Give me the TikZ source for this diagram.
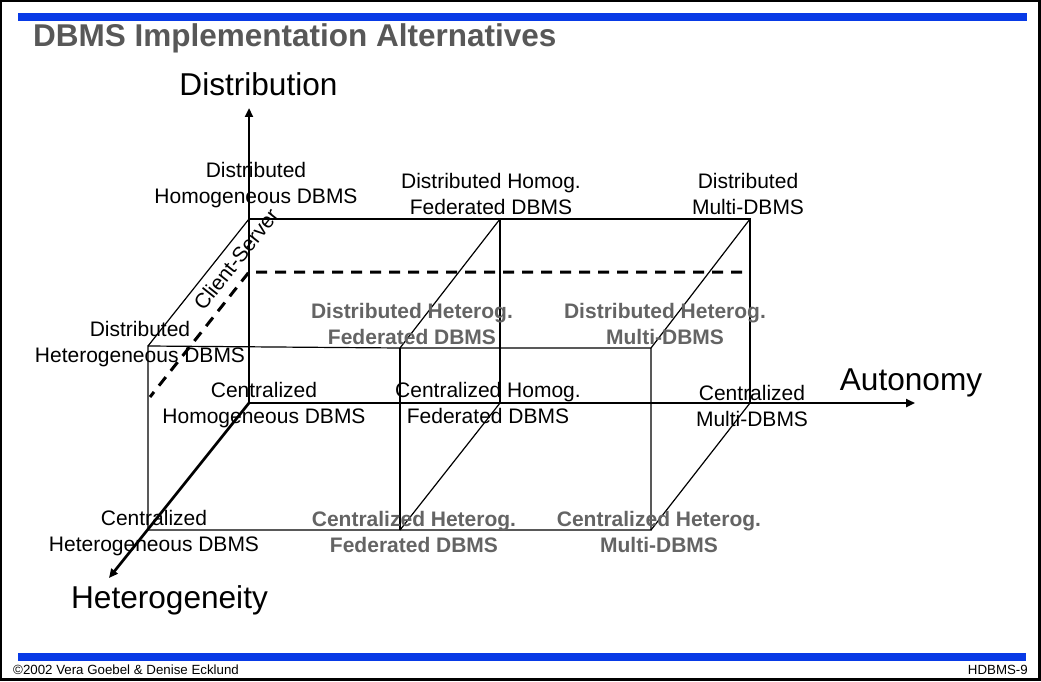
\documentclass[tikz,border=0pt]{standalone}
\usepackage{fontspec}
\setmainfont{Liberation Sans}
\usetikzlibrary{arrows.meta}
\definecolor{barblue}{RGB}{8,58,230}
\definecolor{titlegray}{RGB}{88,88,88}
\definecolor{cellgray}{RGB}{100,100,100}
\tikzset{
  edge/.style={line width=1.2pt, black},
  axisline/.style={line width=2.7pt, black, -{Triangle[length=9pt,width=8pt]}},
  csline/.style={line width=3pt, black, dash pattern=on 11pt off 8pt},
  lbl/.style={align=center, inner sep=0pt, anchor=north, font=\fontsize{21}{26}\selectfont},
  hetlbl/.style={lbl, text=cellgray, font=\fontsize{21}{26}\selectfont\bfseries},
  axislbl/.style={inner sep=0pt, anchor=base, font=\fontsize{31.6}{38}\selectfont},
  bar/.style={fill=barblue, draw=none},
}
\begin{document}
\begin{tikzpicture}[x=1pt, y=-1pt]
\useasboundingbox (0,0) rectangle (1041,682);
% slide frame and blue rules
\draw[line width=2.4pt] (1.2,1.2) rectangle (1039.6,679.6);
\path[bar] (18,13) rectangle (1027,21);
\path[bar] (18,653) rectangle (1026,661);
\node[inner sep=0pt, anchor=base west, text=titlegray, font=\fontsize{31.5}{38}\selectfont\bfseries]
  (title) at (33,47) {DBMS Implementation Alternatives};
\node[inner sep=0pt, anchor=base west, font=\fontsize{13.3}{16}\selectfont]
  (copy) at (13,674) {©2002 Vera Goebel \& Denise Ecklund};
\node[inner sep=0pt, anchor=base east, font=\fontsize{13.3}{16}\selectfont]
  (page) at (1028,674) {HDBMS-9};

% cube corners: back plane (homogeneous) and front plane (heterogeneous)
\coordinate (O)     at (249,403);
\coordinate (cHF)   at (500,403);
\coordinate (cM)    at (750,403);
\coordinate (dH)    at (249,219);
\coordinate (dHF)   at (500,219);
\coordinate (dM)    at (750,219);
\coordinate (cHet)  at (148,530);
\coordinate (cHetF) at (400,530);
\coordinate (cHetM) at (651,530);
\coordinate (dHet)  at (148,346);
\coordinate (dHetF) at (400,348);
\coordinate (dHetM) at (651,348);
% axis ends and client-server boundary
\coordinate (zTop)  at (249,108);
\coordinate (xEnd)  at (915,403);
\coordinate (yEnd)  at (109,578);
\coordinate (csB)   at (249,272);
\coordinate (csR)   at (742,272);
\coordinate (csF)   at (150,397);

% cube edges
\draw[edge] (dH) -- (dHF) -- (dM) -- (cM);
\draw[edge] (dHF) -- (cHF);
\draw[edge] (dH) -- (dHet);
\draw[edge] (dHF) -- (dHetF);
\draw[edge] (dM) -- (dHetM);
\draw[edge] (cHF) -- (cHetF);
\draw[edge] (cM) -- (cHetM);
\draw[edge] (dHet) -- (dHetF) -- (dHetM) -- (cHetM) -- (cHetF) -- (cHet) -- cycle;
\draw[edge] (dHetF) -- (cHetF);

% client-server boundary
\draw[csline] (csR) -- (csB) -- (csF);

% axes
\draw[axisline] (O) -- (zTop);
\draw[axisline] (O) -- (xEnd);
\draw[axisline] (O) -- (yEnd);

\node[axislbl] (lDist) at (258.5,96) {Distribution};
\node[axislbl] (lAuto) at (911,390) {Autonomy};
\node[axislbl] (lHet)  at (169.5,608) {Heterogeneity};
\node[inner sep=0pt, rotate=51.6, font=\fontsize{21}{26}\selectfont] (lCS) at (236,259) {Client-Server};

% alternatives
\node[lbl] (nDH)    at (256,161.8) {Distributed\\Homogeneous DBMS};
\node[lbl] (nDHF)   at (491,172.8) {Distributed Homog.\\Federated DBMS};
\node[lbl] (nDM)    at (748,172.8) {Distributed\\Multi-DBMS};
\node[lbl] (nDHet)  at (140,320.8) {Distributed\\Heterogeneous DBMS};
\node[hetlbl] (nDHetF) at (412,302.8) {Distributed Heterog.\\Federated DBMS};
\node[hetlbl] (nDHetM) at (665,302.8) {Distributed Heterog.\\Multi-DBMS};
\node[lbl] (nCH)    at (264,381.8) {Centralized\\Homogeneous DBMS};
\node[lbl] (nCHF)   at (488,381.8) {Centralized Homog.\\Federated DBMS};
\node[lbl] (nCM)    at (752,384.8) {Centralized\\Multi-DBMS};
\node[lbl] (nCHet)  at (154,509.8) {Centralized\\Heterogeneous DBMS};
\node[hetlbl] (nCHetF) at (414,510.8) {Centralized Heterog.\\Federated DBMS};
\node[hetlbl] (nCHetM) at (659,510.8) {Centralized Heterog.\\Multi-DBMS};
\end{tikzpicture}
\end{document}
